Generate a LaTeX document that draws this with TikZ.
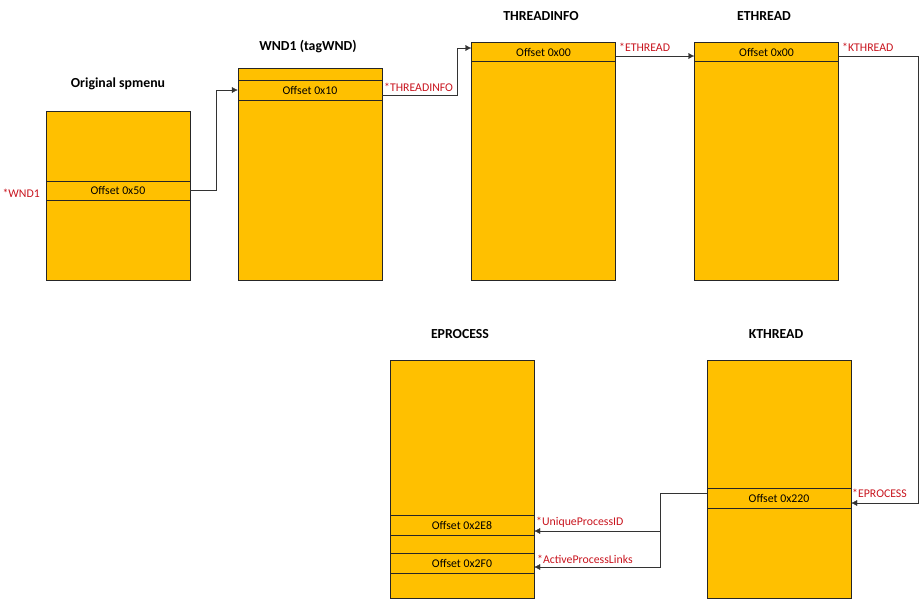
\documentclass[tikz,border=0pt]{standalone}
\usepackage{fontspec}
\setmainfont{Carlito}
\usetikzlibrary{arrows.meta}
\definecolor{boxfill}{RGB}{255,192,0}
\definecolor{ptrred}{RGB}{200,20,30}
\begin{document}
\begin{tikzpicture}[x=1pt,y=-1pt,
	box/.style={draw=black!85, fill=boxfill, minimum width=144pt, inner sep=0pt},
	field/.style={draw=black!85, fill=boxfill, minimum width=144pt, minimum height=19pt, inner sep=0pt, font=\fontsize{11.8}{13}\selectfont},
	title/.style={font=\bfseries\fontsize{13.8}{15}\selectfont},
	ptr/.style={text=ptrred, inner sep=0pt, anchor=west, font=\fontsize{11.8}{13}\selectfont},
	link/.style={draw=black!80, -{Latex[length=6pt,width=6pt]}}]
			\useasboundingbox (0,0) rectangle (920,606);
			
			\node	(spmenu) at (118,195.5) [box, minimum height=169pt] {};
			\node	(wnd) at (310,174) [box, minimum height=212pt] {};
			\node	(tinfo) at (543.5,161) [box, minimum height=238pt] {};
			\node	(ethread) at (766.5,161) [box, minimum height=238pt] {};
			\node	(eproc) at (462,479) [box, minimum height=238pt] {};
			\node	(kthread) at (779,479) [box, minimum height=238pt] {};
			
			\node	(r50) at (118,190.5) [field] {Offset 0x50};
			\node	(r10) at (310,90) [field, minimum height=20pt] {Offset 0x10};
			\node	(ti0) at (543.5,52) [field] {Offset 0x00};
			\node	(et0) at (766.5,52) [field] {Offset 0x00};
			\node	(r220) at (779,498) [field, minimum height=20pt] {Offset 0x220};
			\node	(r2e8) at (462,525) [field, minimum height=20pt] {Offset 0x2E8};
			\node	(r2f0) at (462,563) [field, minimum height=20pt] {Offset 0x2F0};
			
			\node	(tspmenu) at (118,84) [title] {Original spmenu};
			\node	(twnd) at (308,47) [title] {WND1 (tagWND)};
			\node	(ttinfo) at (541,16) [title] {THREADINFO};
			\node	(tethread) at (764,16) [title] {ETHREAD};
			\node	(teproc) at (460,334) [title] {EPROCESS};
			\node	(tkthread) at (776,334) [title] {KTHREAD};
			
			\node	(lwnd) at (40,193) [ptr, anchor=east] {*WND1};
			\node	(lti) at (384,87) [ptr] {*THREADINFO};
			\node	(let) at (619,47) [ptr] {*ETHREAD};
			\node	(lkt) at (842,47) [ptr] {*KTHREAD};
			\node	(lep) at (852,493) [ptr] {*EPROCESS};
			\node	(lup) at (536,522) [ptr] {*UniqueProcessID};
			\node	(lap) at (537,559) [ptr] {*ActiveProcessLinks};
			
			\draw[link] (r50.east) -- ++(26,0) |- (r10.west);
			\draw[link] ([yshift=-5pt]r10.east) -- ++(75,0) |- ([yshift=4pt]ti0.west);
			\draw[link] ([yshift=-4pt]ti0.east) -- ([yshift=-4pt]et0.west);
			\draw[link] ([yshift=-4pt]et0.east) -- ++(79,0) |- ([yshift=-5pt]r220.east);
			\draw[link] ([yshift=5pt]r220.west) -- ++(-47,0) |- ([yshift=-6pt]r2e8.east);
			\draw[link] ([yshift=5pt]r220.west) -- ++(-47,0) |- ([yshift=-4pt]r2f0.east);
		\end{tikzpicture}
\end{document}
